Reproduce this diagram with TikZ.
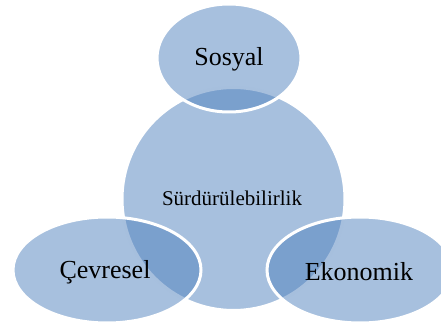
\documentclass[tikz,border=0pt]{standalone}
\usepackage{fontspec}
\setmainfont{Liberation Serif}
\definecolor{petal}{HTML}{4F81BD}
\begin{document}
\begin{tikzpicture}[x=1pt,y=-1pt,
  blob/.style={fill=petal,fill opacity=0.5,draw=white,line width=3pt},
  lbl/.style={text=black,font=\fontsize{26}{30}\selectfont,inner sep=0pt},
  core/.style={text=black,font=\fontsize{21}{25}\selectfont,inner sep=0pt}]
  \useasboundingbox (0,0) rectangle (441,323);
  % central circle first, the three ellipses above it
  \path[blob] (233.5,199) circle[radius=111.5];
  \path[blob] (229,58) ellipse[x radius=72,y radius=54];
  \path[blob] (107,270) ellipse[x radius=94,y radius=53];
  \path[blob] (360,270) ellipse[x radius=93,y radius=53];
  \node[core] (s) at (232,198) {Sürdürülebilirlik};
  \node[lbl] (so) at (229,59) {Sosyal};
  \node[lbl] (ce) at (105,272) {Çevresel};
  \node[lbl] (ek) at (359,272) {Ekonomik};
\end{tikzpicture}
\end{document}
